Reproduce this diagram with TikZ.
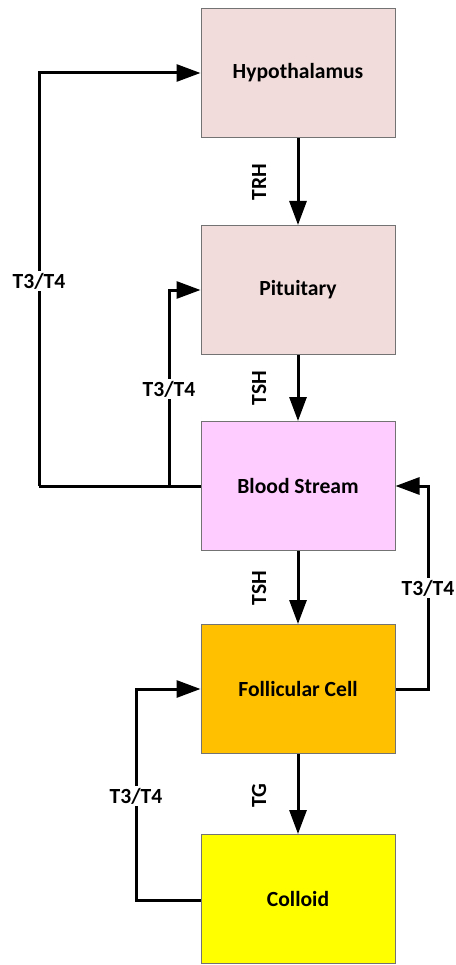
\documentclass[tikz,border=0pt]{standalone}
\usepackage{fontspec}
\setmainfont{Carlito}
\usetikzlibrary{arrows.meta}
\begin{document}
\begin{tikzpicture}[x=1pt,y=-1pt,
  box/.style={draw=black!55,line width=1pt,minimum width=194pt,minimum height=129pt,inner sep=0pt,font=\fontsize{21.6}{25}\selectfont\bfseries},
  conn/.style={line width=3pt,-{Triangle[length=24pt,width=17pt]}},
  wire/.style={line width=3pt},
  lbl/.style={font=\fontsize{21.6}{25}\selectfont\bfseries,inner sep=1pt},
  vlbl/.style={lbl,rotate=90},
  wlbl/.style={lbl,fill=white,inner sep=2pt}]
\useasboundingbox (0,0) rectangle (455,965);
\node[box,fill={rgb,255:red,242;green,220;blue,219}] (hyp) at (298,73) {Hypothalamus};
\node[box,fill={rgb,255:red,242;green,220;blue,219}] (pit) at (298,290) {Pituitary};
\node[box,fill={rgb,255:red,255;green,204;blue,255}] (bs) at (298,486) {Blood Stream};
\node[box,fill={rgb,255:red,255;green,192;blue,0}] (fc) at (298,689) {Follicular Cell};
\node[box,fill={rgb,255:red,255;green,255;blue,0}] (col) at (298,899) {Colloid};
\draw[conn] (hyp) -- (pit);
\draw[conn] (pit) -- (bs);
\draw[conn] (bs) -- (fc);
\draw[conn] (fc) -- (col);
\node[vlbl] (trh) at (259,182) {TRH};
\node[vlbl] (tsh1) at (259,388) {TSH};
\node[vlbl] (tsh2) at (259,588) {TSH};
\node[vlbl] (tg) at (259,796) {TG};
\coordinate (a1) at (39,486);
\coordinate (a2) at (39,73);
\coordinate (b1) at (169,486);
\coordinate (b2) at (169,290);
\coordinate (c1) at (428,689);
\coordinate (c2) at (428,486);
\coordinate (d1) at (136,900);
\coordinate (d2) at (136,689);
\draw[wire] (bs.west) -- (a1);
\draw[conn] (a1) -- (a2) -- (hyp.west);
\draw[conn] (b1) -- (b2) -- (pit.west);
\draw[conn] (fc.east) -- (c1) -- (c2) -- (bs.east);
\draw[conn] (col.west |- d1) -- (d1) -- (d2) -- (fc.west);
\node[wlbl] (l1) at (39,281) {T3/T4};
\node[wlbl] (l2) at (169,389) {T3/T4};
\node[wlbl] (l3) at (428,588) {T3/T4};
\node[wlbl] (l4) at (136,796) {T3/T4};
\end{tikzpicture}
\end{document}
